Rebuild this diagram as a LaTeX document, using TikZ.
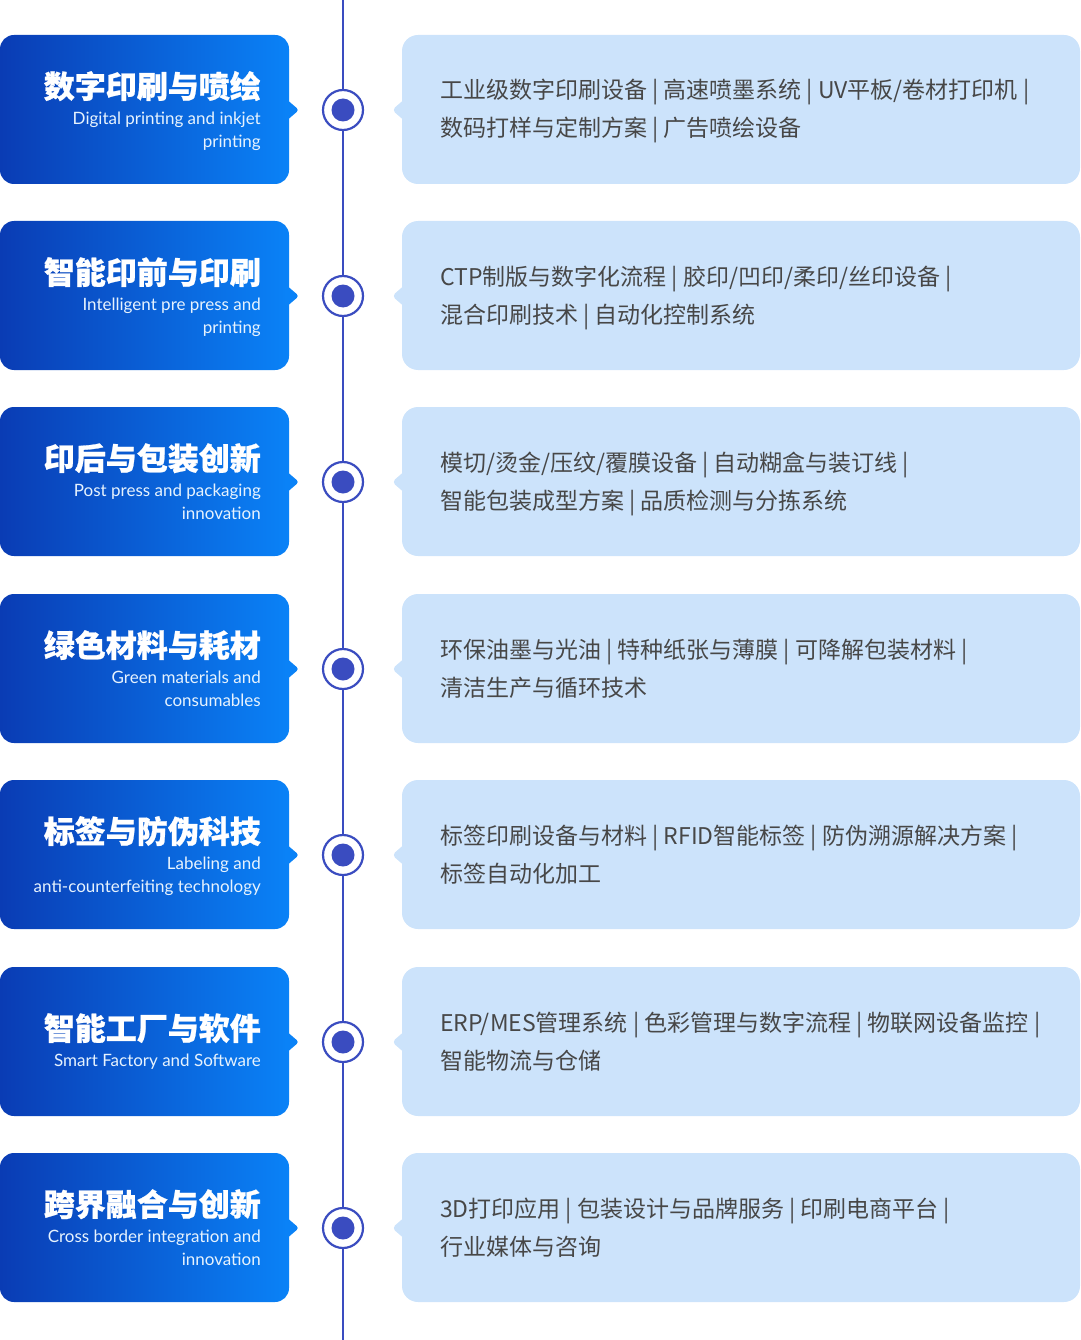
\documentclass[tikz,border=0pt]{standalone}
\usepackage{fontspec}
\setmainfont{Lato}
\newfontfamily\cjk{Noto Sans CJK SC}
\newfontfamily\cjkfett[BoldFeatures={FakeBold=0.8}]{Noto Sans CJK SC}
\definecolor{linie}{HTML}{3A4CC0}
\definecolor{dunkel}{HTML}{0A3CB4}
\definecolor{hell}{HTML}{0A82F7}
\definecolor{kasten}{HTML}{CCE3FB}
\definecolor{schrift}{HTML}{474747}
\tikzset{
  kopf/.style={anchor=base east, text=white, inner sep=0pt, font=\cjkfett\bfseries\fontsize{31}{31}\selectfont},
  unter/.style={anchor=north east, text=white!90!hell, inner sep=0pt, align=right, font=\fontsize{17}{23}\selectfont},
  inhalt/.style={anchor=base west, text=schrift, inner sep=0pt, align=left, font=\cjk\fontsize{23}{38}\selectfont},
  ring/.style={circle, draw=linie, line width=2.2pt, fill=white, minimum size=40pt, inner sep=0pt},
  kern/.style={circle, fill=linie, minimum size=23pt, inner sep=0pt},
  strich/.style={draw=linie, line width=2pt},
}
% #1 Name, #2 Mitte, #3 Grundlinie Titel, #4 Titel, #5 englisch, #6 #7 Inhalt
\newcommand{\messezeile}[7]{%
  % Kasten links
  \shade [left color=dunkel, right color=hell, rounded corners=14pt] (0,#2-75) rectangle (289,#2+74);
  \fill [hell, rounded corners=3pt] (285,#2-12) -- (299,#2) -- (285,#2+12) -- cycle;
  \node (t#1) [kopf] at (261,#3) {#4};
  \node (e#1) [unter] at ([yshift=-12pt]t#1.base east) {\rule{0pt}{14pt}#5};
  % Kasten rechts
  \fill [kasten, rounded corners=16pt] (402,#2-75) rectangle (1080,#2+74);
  \fill [kasten, rounded corners=4pt] (407,#2-13) -- (392,#2) -- (407,#2+13) -- cycle;
  \node (i#1) [inhalt] at (440,#2+27) {#6\\#7};
  % Punkt
  \node (p#1) [ring] at (343,#2) {};
  \node (k#1) [kern] at (p#1) {};
}
\begin{document}
\begin{tikzpicture}[x=1pt,y=-1pt]
	\useasboundingbox (0,0) rectangle (1080,1340);
	\coordinate (oben) at (343,0);
	\coordinate (unten) at (343,1340);
	\messezeile{1}{110}{98}{数字印刷与喷绘}{Digital printing and inkjet\\printing}{工业级数字印刷设备 | 高速喷墨系统 | UV平板/卷材打印机 |}{数码打样与定制方案 | 广告喷绘设备}
	\messezeile{2}{296}{284}{智能印前与印刷}{Intelligent pre press and\\printing}{CTP制版与数字化流程 | 胶印/凹印/柔印/丝印设备 |}{混合印刷技术 | 自动化控制系统}
	\messezeile{3}{482}{470}{印后与包装创新}{Post press and packaging\\innovation}{模切/烫金/压纹/覆膜设备 | 自动糊盒与装订线 |}{智能包装成型方案 | 品质检测与分拣系统}
	\messezeile{4}{669}{657}{绿色材料与耗材}{Green materials and\\consumables}{环保油墨与光油 | 特种纸张与薄膜 | 可降解包装材料 |}{清洁生产与循环技术}
	\messezeile{5}{855}{843}{标签与防伪科技}{Labeling and\\anti-counterfeiting technology}{标签印刷设备与材料 | RFID智能标签 | 防伪溯源解决方案 |}{标签自动化加工}
	\messezeile{6}{1042}{1040}{智能工厂与软件}{Smart Factory and Software}{ERP/MES管理系统 | 色彩管理与数字流程 | 物联网设备监控 |}{智能物流与仓储}
	\messezeile{7}{1228}{1216}{跨界融合与创新}{Cross border integration and\\innovation}{3D打印应用 | 包装设计与品牌服务 | 印刷电商平台 |}{行业媒体与咨询}
	% Zeitleiste
	\draw [strich] (oben) -- (p1) (p1) -- (p2) (p2) -- (p3) (p3) -- (p4) (p4) -- (p5) (p5) -- (p6) (p6) -- (p7) (p7) -- (unten);
\end{tikzpicture}
\end{document}
